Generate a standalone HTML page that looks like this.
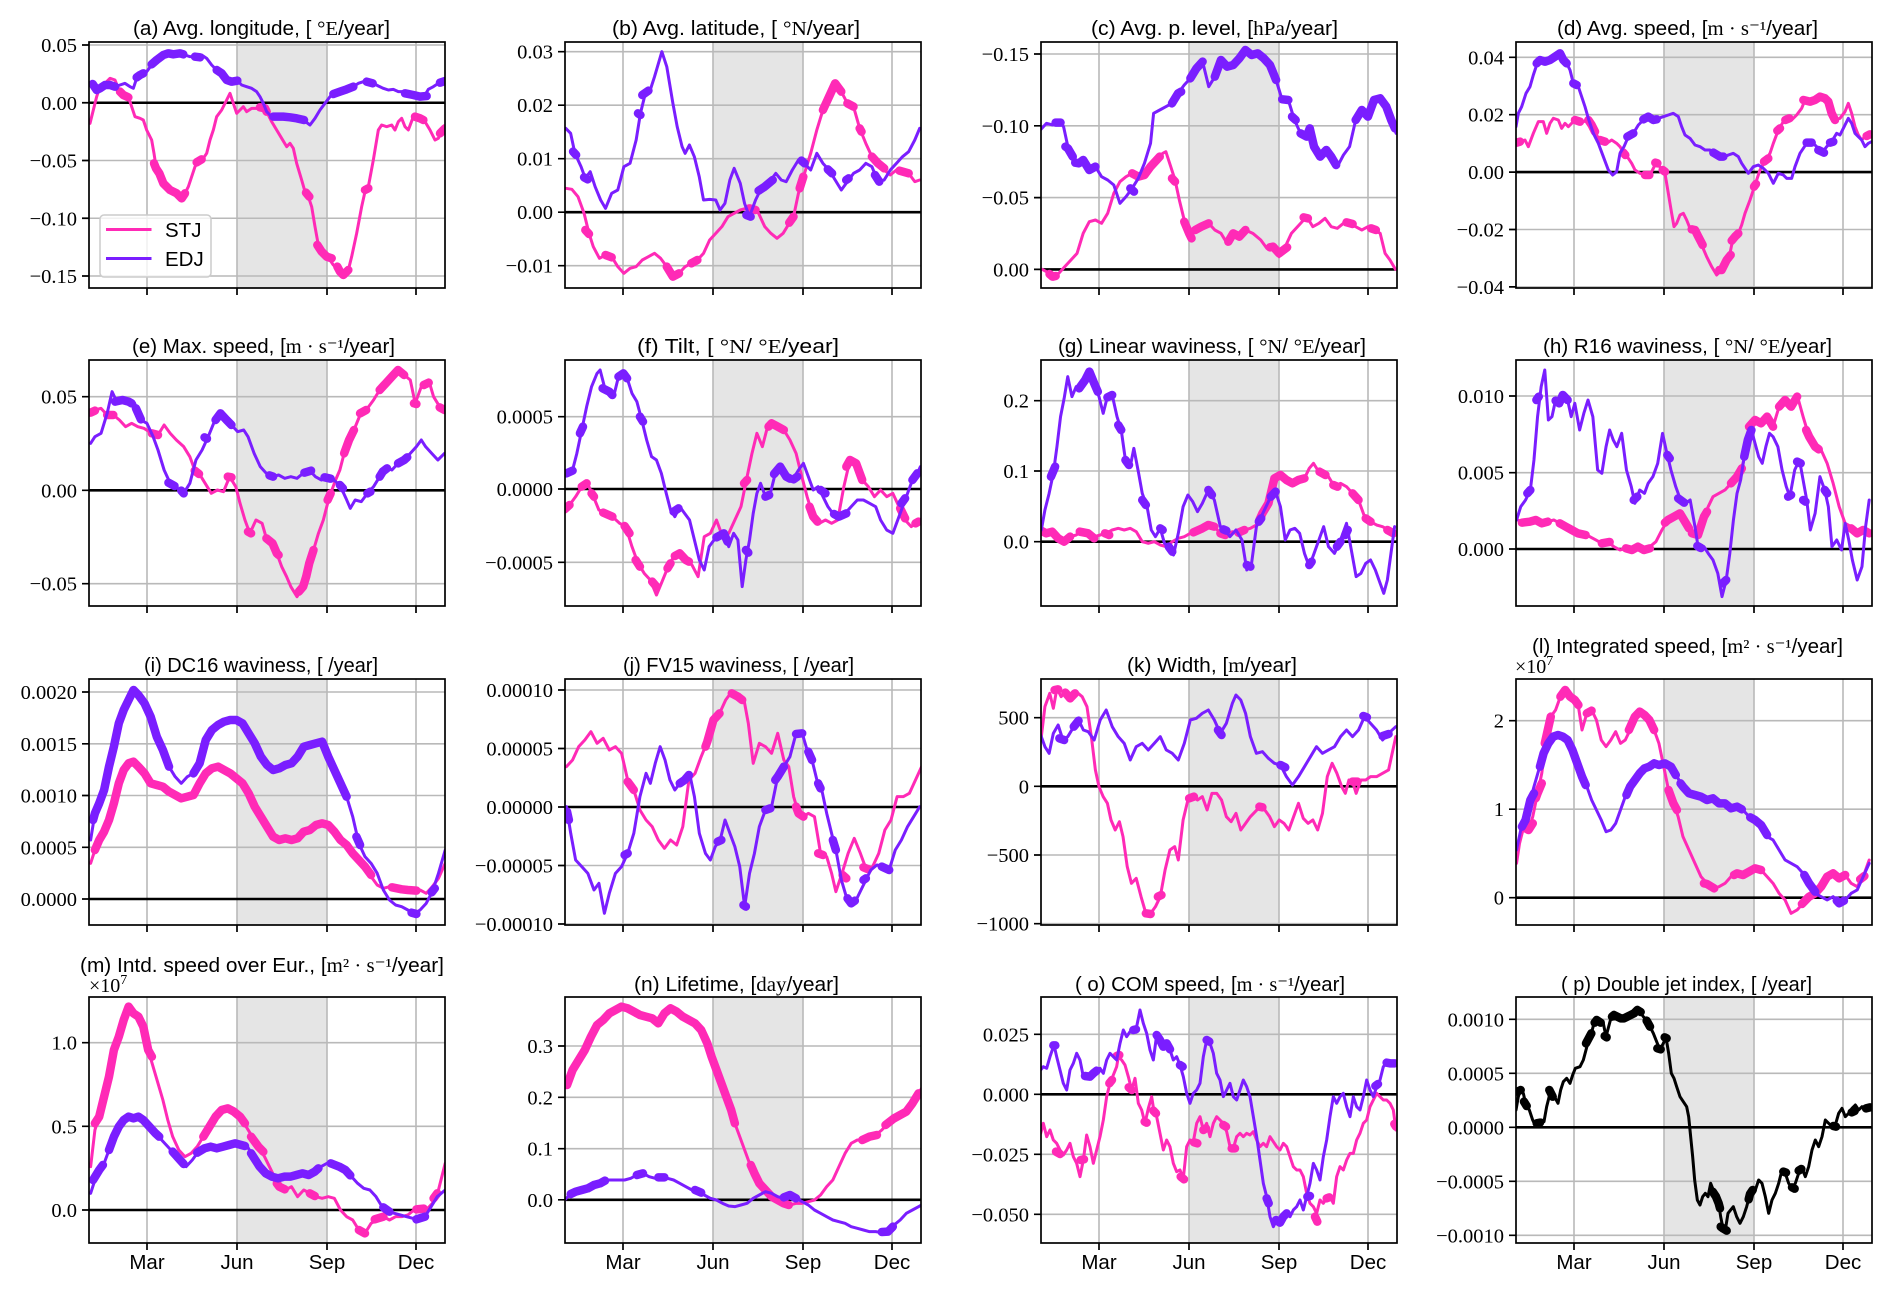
<!DOCTYPE html>
<html><head><meta charset="utf-8"><style>
html,body{margin:0;padding:0;background:#fff}
svg{display:block}
.p,.pk,.u,.uk,.b,.bk{fill:none;stroke-linejoin:round;stroke-linecap:round;vector-effect:non-scaling-stroke}
.p{stroke:#ff2ab6;stroke-width:3}
.pk{stroke:#ff2ab6;stroke-width:8.5}
.u{stroke:#7a1eff;stroke-width:3}
.uk{stroke:#7a1eff;stroke-width:8.5}
.b{stroke:#000;stroke-width:3}
.bk{stroke:#000;stroke-width:8.5}
.gr{stroke:#b9b9b9;stroke-width:1.6;fill:none}
.z{stroke:#000;stroke-width:2.6}
.fr{fill:none;stroke:#000;stroke-width:1.7}
.tk{stroke:#000;stroke-width:1.7;fill:none}
.yl{font-family:"Liberation Serif",serif;font-size:20.5px;text-anchor:end;fill:#000}
.ti{font-family:"Liberation Sans",sans-serif;font-size:20px;fill:#000}
.se{font-family:"Liberation Serif",serif}
.ml{font-family:"Liberation Sans",sans-serif;font-size:20.5px;text-anchor:middle;fill:#000}
.sh{fill:#e5e5e5}
</style></head><body>
<svg width="1892" height="1295" viewBox="0 0 1892 1295" xmlns="http://www.w3.org/2000/svg">
<defs>
<clipPath id="c1a"><rect x="89" y="42" width="356" height="246"/></clipPath>
<clipPath id="c1b"><rect x="565" y="42" width="356" height="246"/></clipPath>
<clipPath id="c1c"><rect x="1041" y="42" width="356" height="246"/></clipPath>
<clipPath id="c1d"><rect x="1516" y="42" width="356" height="246"/></clipPath>
<clipPath id="c2a"><rect x="89" y="360" width="356" height="246"/></clipPath>
<clipPath id="c2b"><rect x="565" y="360" width="356" height="246"/></clipPath>
<clipPath id="c2c"><rect x="1041" y="360" width="356" height="246"/></clipPath>
<clipPath id="c2d"><rect x="1516" y="360" width="356" height="246"/></clipPath>
<clipPath id="c3a"><rect x="89" y="679" width="356" height="246"/></clipPath>
<clipPath id="c3b"><rect x="565" y="679" width="356" height="246"/></clipPath>
<clipPath id="c3c"><rect x="1041" y="679" width="356" height="246"/></clipPath>
<clipPath id="c3d"><rect x="1516" y="679" width="356" height="246"/></clipPath>
<clipPath id="c4a"><rect x="89" y="997" width="356" height="246"/></clipPath>
<clipPath id="c4b"><rect x="565" y="997" width="356" height="246"/></clipPath>
<clipPath id="c4c"><rect x="1041" y="997" width="356" height="246"/></clipPath>
<clipPath id="c4d"><rect x="1516" y="997" width="356" height="246"/></clipPath>
</defs>

<!-- ===== backgrounds: shading + grid + zero lines ===== -->
<g transform="translate(89,42)"><rect class="sh" x="148" y="0" width="90" height="246"/><path class="gr" d="M58 0V246M148 0V246M238 0V246M327 0V246M0 3H356M0 118.5H356M0 176.25H356M0 234H356"/><path class="z" d="M0 60.75H356"/></g>
<g transform="translate(565,42)"><rect class="sh" x="148" y="0" width="90" height="246"/><path class="gr" d="M58 0V246M148 0V246M238 0V246M327 0V246M0 9.7H356M0 63.2H356M0 116.7H356M0 223.7H356"/><path class="z" d="M0 170.2H356"/></g>
<g transform="translate(1041,42)"><rect class="sh" x="148" y="0" width="90" height="246"/><path class="gr" d="M58 0V246M148 0V246M238 0V246M327 0V246M0 12H356M0 83.8H356M0 155.6H356"/><path class="z" d="M0 227.4H356"/></g>
<g transform="translate(1516,42)"><rect class="sh" x="148" y="0" width="90" height="246"/><path class="gr" d="M58 0V246M148 0V246M238 0V246M327 0V246M0 15.3H356M0 72.7H356M0 187.5H356M0 244.9H356"/><path class="z" d="M0 130.1H356"/></g>

<g transform="translate(89,360)"><rect class="sh" x="148" y="0" width="90" height="246"/><path class="gr" d="M58 0V246M148 0V246M238 0V246M327 0V246M0 36.7H356M0 223.7H356"/><path class="z" d="M0 130.3H356"/></g>
<g transform="translate(565,360)"><rect class="sh" x="148" y="0" width="90" height="246"/><path class="gr" d="M58 0V246M148 0V246M238 0V246M327 0V246M0 56.7H356M0 202.3H356"/><path class="z" d="M0 129H356"/></g>
<g transform="translate(1041,360)"><rect class="sh" x="148" y="0" width="90" height="246"/><path class="gr" d="M58 0V246M148 0V246M238 0V246M327 0V246M0 40.7H356M0 111H356"/><path class="z" d="M0 181.7H356"/></g>
<g transform="translate(1516,360)"><rect class="sh" x="148" y="0" width="90" height="246"/><path class="gr" d="M58 0V246M148 0V246M238 0V246M327 0V246M0 36H356M0 112.7H356"/><path class="z" d="M0 189H356"/></g>

<g transform="translate(89,679)"><rect class="sh" x="148" y="0" width="90" height="246"/><path class="gr" d="M58 0V246M148 0V246M238 0V246M327 0V246M0 13H356M0 64.8H356M0 116.5H356M0 168.3H356"/><path class="z" d="M0 220H356"/></g>
<g transform="translate(565,679)"><rect class="sh" x="148" y="0" width="90" height="246"/><path class="gr" d="M58 0V246M148 0V246M238 0V246M327 0V246M0 11H356M0 69.5H356M0 186.5H356M0 245H356"/><path class="z" d="M0 128H356"/></g>
<g transform="translate(1041,679)"><rect class="sh" x="148" y="0" width="90" height="246"/><path class="gr" d="M58 0V246M148 0V246M238 0V246M327 0V246M0 38.7H356M0 176H356M0 244.7H356"/><path class="z" d="M0 107.3H356"/></g>
<g transform="translate(1516,679)"><rect class="sh" x="148" y="0" width="90" height="246"/><path class="gr" d="M58 0V246M148 0V246M238 0V246M327 0V246M0 41.7H356M0 130.2H356"/><path class="z" d="M0 218.7H356"/></g>

<g transform="translate(89,997)"><rect class="sh" x="148" y="0" width="90" height="246"/><path class="gr" d="M58 0V246M148 0V246M238 0V246M327 0V246M0 45.7H356M0 129.3H356"/><path class="z" d="M0 213H356"/></g>
<g transform="translate(565,997)"><rect class="sh" x="148" y="0" width="90" height="246"/><path class="gr" d="M58 0V246M148 0V246M238 0V246M327 0V246M0 49H356M0 100.3H356M0 151.7H356"/><path class="z" d="M0 202.8H356"/></g>
<g transform="translate(1041,997)"><rect class="sh" x="148" y="0" width="90" height="246"/><path class="gr" d="M58 0V246M148 0V246M238 0V246M327 0V246M0 37.3H356M0 157.3H356M0 217.3H356"/><path class="z" d="M0 97.3H356"/></g>
<g transform="translate(1516,997)"><rect class="sh" x="148" y="0" width="90" height="246"/><path class="gr" d="M58 0V246M148 0V246M238 0V246M327 0V246M0 22.3H356M0 76.3H356M0 184.3H356M0 238.3H356"/><path class="z" d="M0 130.3H356"/></g>

<!-- ===== (a) ===== -->
<g clip-path="url(#c1a)"><g transform="scale(0.33333)">
<polyline class="p" points="270,370 280,330 290,290 300,260 315,250 330,235 345,240 355,265 370,285 385,290 395,320 405,350 420,355 430,360 440,390 455,420 462,460 468,500 478,520 490,550 510,570 530,580 545,595 555,580 565,560 575,530 585,500 595,485 610,475 620,460 630,420 640,390 650,350 665,330 680,300 690,280 700,310 710,340 720,330 730,320 740,335 755,325 770,325 785,320 795,325 805,345 815,365 830,390 845,415 860,440 870,430 880,445 890,490 905,540 915,575 925,590 935,620 945,680 955,735 965,755 980,770 990,780 1000,795 1010,805 1020,820 1030,830 1045,810 1055,770 1070,700 1085,620 1095,575 1105,560 1120,480 1135,390 1145,375 1160,380 1175,375 1185,390 1195,365 1205,355 1215,380 1225,390 1240,350 1260,355 1275,365 1290,390 1305,420 1315,415 1325,395 1335,380"/>
<polyline class="pk" points="360,275 370,285 385,292"/>
<polyline class="pk" points="462,490 468,505 478,520 490,550 510,570 530,580 545,595 555,580"/>
<polyline class="pk" points="590,487 605,478"/>
<polyline class="pk" points="780,322 795,325 800,335"/>
<polyline class="pk" points="918,578 928,590"/>
<polyline class="pk" points="952,735 965,755 980,770 995,775"/>
<polyline class="pk" points="1012,800 1020,815 1030,825 1045,810"/>
<polyline class="pk" points="1095,570 1105,565"/>
<polyline class="pk" points="1245,350 1260,355 1270,360"/>
<polyline class="pk" points="1320,400 1335,385"/>
<polyline class="u" points="270,255 280,250 290,270 300,265 315,255 330,255 345,260 360,255 375,250 390,260 400,265 410,235 420,225 440,215 455,195 470,180 490,165 505,160 520,163 540,160 555,165 570,170 590,170 605,165 620,175 635,195 650,210 665,220 680,240 695,245 710,240 725,255 740,260 755,265 770,275 780,290 790,310 800,335 815,350 830,350 850,350 870,352 890,355 910,360 930,375 945,355 960,330 975,310 990,290 1005,280 1020,275 1040,268 1060,260 1075,250 1090,245 1105,245 1120,250 1135,258 1150,265 1165,270 1180,268 1195,275 1210,275 1225,280 1240,285 1260,290 1275,285 1285,268 1300,260 1315,250 1330,245 1335,245"/>
<polyline class="uk" points="278,252 290,270 300,265 315,255 330,255 345,260"/>
<polyline class="uk" points="410,232 420,225 430,220"/>
<polyline class="uk" points="455,193 470,180 490,165 505,160 520,163 540,160 550,163"/>
<polyline class="uk" points="585,170 600,172"/>
<polyline class="uk" points="650,210 665,220 680,240 695,245 712,242"/>
<polyline class="uk" points="820,350 830,350 850,350 870,352 890,355 912,360"/>
<polyline class="uk" points="1000,282 1020,275 1040,268 1060,260"/>
<polyline class="uk" points="1100,245 1118,250"/>
<polyline class="uk" points="1215,280 1240,285 1260,290 1280,288"/>
<polyline class="uk" points="1320,248 1335,243"/>
</g></g>

<!-- ===== (b) ===== -->
<g clip-path="url(#c1b)"><g transform="translate(480,0) scale(0.61237,0.33333)">
<polyline class="p" points="140,565 150,568 160,590 170,640 178,700 185,740 195,775 205,765 215,770 225,800 235,820 245,805 255,800 265,780 275,770 285,760 295,775 305,800 315,830 325,820 335,800 345,790 355,780 365,760 375,720 385,700 395,680 405,650 415,640 425,630 435,625 445,625 455,640 465,680 475,700 485,715 495,700 505,670 512,650 520,580 530,520 540,460 550,390 560,330 570,290 580,250 590,275 600,310 610,320 620,385 630,430 640,470 650,490 660,510 670,525 680,510 690,515 700,520 710,545 718,540"/>
<polyline class="pk" points="172,690 178,702"/>
<polyline class="pk" points="205,765 215,772"/>
<polyline class="pk" points="305,800 315,830 325,820"/>
<polyline class="pk" points="345,790 355,780"/>
<polyline class="pk" points="440,625 450,630"/>
<polyline class="pk" points="505,668 512,650"/>
<polyline class="pk" points="522,565 528,530"/>
<polyline class="pk" points="560,330 570,290 580,250 590,275"/>
<polyline class="pk" points="600,310 610,320"/>
<polyline class="pk" points="620,385 623,395"/>
<polyline class="pk" points="640,470 650,490 660,505"/>
<polyline class="pk" points="685,512 700,520"/>
<polyline class="u" points="140,385 148,400 155,460 165,500 172,535 180,515 188,560 197,600 205,625 215,580 225,570 235,500 245,490 255,420 262,340 270,280 278,270 285,230 297,155 305,200 315,310 322,380 330,440 335,460 342,435 350,470 358,530 365,600 375,598 385,600 392,630 400,610 408,540 415,505 425,550 432,610 440,650 450,600 458,570 465,560 475,540 483,520 492,540 500,545 510,510 520,480 530,490 540,510 550,460 560,490 570,510 580,540 590,570 600,545 610,520 620,510 630,490 640,500 650,545 660,540 670,510 680,490 690,470 700,455 710,420 718,385"/>
<polyline class="uk" points="152,455 157,465"/>
<polyline class="uk" points="170,532 176,538"/>
<polyline class="uk" points="258,340 262,345"/>
<polyline class="uk" points="265,285 275,272"/>
<polyline class="uk" points="435,645 442,650"/>
<polyline class="uk" points="455,572 465,560 478,540"/>
<polyline class="uk" points="525,482 530,490"/>
<polyline class="uk" points="568,508 575,520"/>
<polyline class="uk" points="598,540 602,535"/>
<polyline class="uk" points="645,525 652,545"/>
</g></g>

<!-- ===== (c) ===== -->
<g clip-path="url(#c1c)"><g transform="translate(480,0) scale(0.61237,0.33333)">
<polyline class="p" points="918,808 925,815 935,830 945,820 955,800 965,780 975,760 985,700 995,665 1005,660 1015,670 1025,640 1035,580 1045,545 1055,530 1065,520 1075,530 1085,525 1095,500 1105,480 1115,460 1120,455 1128,500 1135,540 1142,600 1150,660 1158,700 1168,690 1178,680 1190,670 1200,690 1210,700 1220,730 1230,700 1240,710 1250,690 1262,700 1275,720 1285,745 1295,740 1305,770 1315,740 1325,700 1340,670 1350,650 1360,680 1370,670 1380,655 1390,680 1400,685 1410,670 1420,665 1430,680 1440,690 1450,680 1460,690 1470,700 1478,760 1486,780 1495,808"/>
<polyline class="pk" points="930,822 935,830 940,828"/>
<polyline class="pk" points="1065,520 1075,530 1085,525 1095,500 1105,480 1110,470"/>
<polyline class="pk" points="1130,535 1135,545"/>
<polyline class="pk" points="1150,665 1158,700 1162,715"/>
<polyline class="pk" points="1168,690 1178,680 1190,670"/>
<polyline class="pk" points="1222,725 1230,700 1240,710 1250,690"/>
<polyline class="pk" points="1290,742 1295,740 1305,760 1318,742"/>
<polyline class="pk" points="1345,652 1352,655"/>
<polyline class="pk" points="1415,667 1425,672"/>
<polyline class="pk" points="1455,685 1463,690"/>
<polyline class="u" points="915,390 925,370 935,375 945,365 953,380 960,440 968,470 978,490 985,480 995,510 1005,500 1015,530 1025,540 1035,555 1045,610 1055,590 1065,565 1075,535 1085,490 1095,430 1100,340 1110,330 1120,320 1130,310 1140,280 1150,255 1160,235 1170,205 1180,185 1190,260 1200,230 1210,180 1220,200 1230,195 1240,175 1250,150 1260,165 1270,160 1280,175 1290,195 1300,240 1310,300 1320,300 1330,360 1340,400 1350,410 1355,385 1362,440 1372,470 1382,450 1390,470 1400,500 1410,465 1420,440 1430,360 1440,330 1450,350 1460,300 1470,295 1480,320 1488,360 1496,400"/>
<polyline class="uk" points="940,368 948,368"/>
<polyline class="uk" points="956,440 960,445 968,470"/>
<polyline class="uk" points="972,488 978,490 985,480 995,510 1005,500"/>
<polyline class="uk" points="1062,565 1068,575"/>
<polyline class="uk" points="1130,310 1140,280 1145,275"/>
<polyline class="uk" points="1160,235 1170,205 1180,185"/>
<polyline class="uk" points="1200,230 1210,180 1220,200 1230,195 1240,175 1250,150 1260,165 1270,160 1280,175 1290,195 1300,240"/>
<polyline class="uk" points="1310,298 1320,300"/>
<polyline class="uk" points="1326,350 1332,360"/>
<polyline class="uk" points="1340,400 1350,410 1355,385 1362,440 1372,470 1382,450 1390,470 1398,495"/>
<polyline class="uk" points="1430,360 1440,330 1450,350 1460,300 1470,295 1480,320 1488,360 1494,385"/>
</g></g>

<!-- ===== (d) ===== -->
<g clip-path="url(#c1d)"><g transform="translate(1420,0) scale(0.33333)">
<polyline class="p" points="290,430 300,425 315,420 325,440 340,400 355,365 370,365 380,400 390,370 400,355 415,360 425,385 435,370 445,380 455,370 465,360 480,365 490,365 505,360 515,375 525,395 535,415 545,420 560,430 575,420 590,430 600,440 612,460 625,475 635,490 645,510 660,520 675,525 690,525 700,505 710,485 722,505 735,520 745,580 755,640 762,680 770,670 780,645 790,640 800,660 810,685 825,690 835,710 845,735 860,770 875,800 890,825 905,810 920,780 930,760 935,735 945,710 955,700 965,675 975,640 990,600 1005,555 1020,510 1035,485 1050,460 1060,430 1075,390 1090,365 1105,355 1115,360 1130,345 1145,325 1155,300 1170,305 1185,300 1200,290 1215,295 1225,305 1235,340 1245,360 1260,355 1275,335 1285,310 1295,340 1305,380 1315,405 1325,420 1335,410 1350,400"/>
<polyline class="pk" points="290,428 300,425"/>
<polyline class="pk" points="465,360 480,365"/>
<polyline class="pk" points="505,360 515,375 525,395"/>
<polyline class="pk" points="540,420 555,425"/>
<polyline class="pk" points="610,458 616,465"/>
<polyline class="pk" points="675,525 688,525"/>
<polyline class="pk" points="706,488 712,490"/>
<polyline class="pk" points="728,510 735,515"/>
<polyline class="pk" points="815,688 825,690 835,710 848,735"/>
<polyline class="pk" points="898,810 905,810 920,780 932,765"/>
<polyline class="pk" points="935,722 945,710 955,700"/>
<polyline class="pk" points="1002,560 1008,552"/>
<polyline class="pk" points="1032,485 1045,475"/>
<polyline class="pk" points="1072,392 1080,385"/>
<polyline class="pk" points="1096,360 1108,355"/>
<polyline class="pk" points="1150,300 1170,305 1185,300 1200,290 1215,295 1225,305 1235,340 1245,360"/>
<polyline class="pk" points="1340,408 1350,403"/>
<polyline class="u" points="288,380 295,340 305,320 318,280 330,260 340,225 350,195 360,180 375,185 390,180 405,170 420,160 430,180 440,190 450,210 460,250 475,260 485,290 495,320 505,355 520,400 535,430 550,470 565,510 578,525 590,515 600,460 612,440 625,410 640,400 655,375 670,360 685,350 700,360 715,355 730,350 745,345 760,340 775,350 785,380 795,405 810,415 825,435 840,440 855,450 870,450 885,460 900,470 915,470 925,465 940,460 955,470 965,490 975,505 985,520 1000,500 1015,495 1030,505 1045,520 1060,550 1075,520 1090,525 1100,535 1115,535 1125,500 1140,460 1160,430 1175,425 1190,440 1205,460 1220,440 1235,425 1250,400 1260,405 1275,375 1285,355 1295,370 1305,400 1315,410 1325,420 1335,440 1345,430 1355,425"/>
<polyline class="uk" points="350,190 360,180 375,185 390,180 405,170 420,160 430,180 440,190"/>
<polyline class="uk" points="460,250 470,255"/>
<polyline class="uk" points="622,410 640,400"/>
<polyline class="uk" points="670,358 685,350 700,360 710,358"/>
<polyline class="uk" points="880,458 900,470 910,470"/>
<polyline class="uk" points="1160,428 1175,428"/>
<polyline class="uk" points="1195,450 1212,458"/>
<polyline class="uk" points="1230,428 1240,425"/>
</g></g>

<!-- ===== (e) ===== -->
<g clip-path="url(#c2a)"><g transform="translate(0,320) scale(0.61237,0.33333)">
<polyline class="p" points="148,280 155,270 165,265 175,285 185,285 195,300 205,320 215,310 225,320 235,325 248,340 258,345 268,315 278,340 288,360 300,380 310,410 318,450 325,460 335,490 345,520 355,510 365,515 375,470 385,500 392,550 400,600 408,640 418,600 428,610 435,655 445,670 452,700 460,740 468,770 475,800 485,830 495,800 500,770 505,730 512,690 520,640 528,600 535,550 540,520 548,480 555,450 562,400 570,360 578,330 588,285 598,270 610,240 620,210 630,190 640,170 650,150 660,165 670,180 678,250 688,200 700,180 708,230 718,260 726,270"/>
<polyline class="pk" points="148,278 155,272"/>
<polyline class="pk" points="175,285 185,285"/>
<polyline class="pk" points="248,340 258,345"/>
<polyline class="pk" points="318,452 325,462"/>
<polyline class="pk" points="372,470 378,472"/>
<polyline class="pk" points="405,635 410,640"/>
<polyline class="pk" points="435,655 445,670 452,700 455,705"/>
<polyline class="pk" points="488,815 495,800 500,770 505,730 512,690"/>
<polyline class="pk" points="535,540 540,520"/>
<polyline class="pk" points="562,400 570,360 578,330"/>
<polyline class="pk" points="588,280 598,270"/>
<polyline class="pk" points="620,210 630,190 640,170 650,150 660,165"/>
<polyline class="pk" points="676,250 680,252"/>
<polyline class="pk" points="692,195 700,188"/>
<polyline class="pk" points="718,262 726,270"/>
<polyline class="u" points="148,370 155,350 165,340 175,280 183,215 192,250 200,240 210,245 220,250 230,300 240,310 250,350 258,390 268,450 278,490 290,505 300,520 310,490 320,420 330,390 340,350 350,305 360,280 370,300 378,315 388,335 398,330 405,350 415,400 425,440 435,460 445,470 455,465 465,475 475,470 485,475 495,460 505,450 515,470 525,480 535,470 545,480 555,495 565,535 572,565 580,540 590,545 600,520 610,500 620,470 630,440 640,450 650,430 660,420 670,400 680,380 688,360 695,380 705,400 715,420 726,400"/>
<polyline class="uk" points="188,245 200,240 210,245 215,250"/>
<polyline class="uk" points="222,265 230,298"/>
<polyline class="uk" points="275,488 285,498"/>
<polyline class="uk" points="296,512 300,520"/>
<polyline class="uk" points="334,352 338,356"/>
<polyline class="uk" points="352,300 360,280 370,300 378,315"/>
<polyline class="uk" points="440,466 446,470"/>
<polyline class="uk" points="497,458 508,452"/>
<polyline class="uk" points="530,472 540,476"/>
<polyline class="uk" points="555,495 560,505"/>
<polyline class="uk" points="600,520 605,515"/>
<polyline class="uk" points="620,470 625,455 632,445"/>
<polyline class="uk" points="650,430 660,420 665,412"/>
</g></g>

<!-- ===== (f) ===== -->
<g clip-path="url(#c2b)"><g transform="translate(0,320) scale(0.61237,0.33333)">
<polyline class="p" points="922,570 930,555 940,530 950,500 958,485 968,525 978,570 990,580 1000,590 1012,610 1022,620 1032,680 1042,730 1052,760 1062,780 1072,825 1080,790 1090,745 1100,710 1110,700 1120,720 1130,735 1140,770 1150,650 1160,640 1170,600 1180,650 1190,640 1200,600 1210,560 1220,470 1228,400 1236,340 1245,380 1252,330 1260,310 1270,320 1280,330 1290,360 1300,400 1308,460 1318,530 1328,590 1338,610 1348,600 1358,610 1368,600 1378,500 1388,420 1398,430 1408,480 1418,500 1428,530 1438,510 1448,530 1458,520 1468,560 1478,600 1488,620 1496,610 1503,600"/>
<polyline class="pk" points="922,568 930,555"/>
<polyline class="pk" points="950,500 958,490"/>
<polyline class="pk" points="966,520 970,530"/>
<polyline class="pk" points="985,578 1000,590"/>
<polyline class="pk" points="1020,618 1028,640"/>
<polyline class="pk" points="1038,720 1045,740"/>
<polyline class="pk" points="1065,785 1072,800"/>
<polyline class="pk" points="1090,745 1095,730"/>
<polyline class="pk" points="1102,708 1110,700 1120,720 1125,725"/>
<polyline class="pk" points="1215,490 1220,480"/>
<polyline class="pk" points="1255,320 1260,310 1270,320 1280,330"/>
<polyline class="pk" points="1322,560 1328,590 1335,605"/>
<polyline class="pk" points="1382,440 1388,420 1398,430 1408,480"/>
<polyline class="pk" points="1470,565 1478,595"/>
<polyline class="pk" points="1495,610 1500,605"/>
<polyline class="u" points="925,460 935,450 942,400 950,330 958,260 966,200 975,160 980,150 987,200 995,215 1002,230 1010,170 1018,160 1025,180 1032,220 1040,245 1048,300 1056,360 1064,410 1072,420 1080,460 1088,520 1095,570 1102,590 1110,560 1118,580 1126,600 1134,660 1142,720 1150,750 1158,680 1166,660 1174,650 1182,640 1190,680 1198,640 1205,660 1212,800 1218,720 1224,660 1230,580 1236,520 1242,490 1250,530 1258,520 1266,460 1274,440 1284,470 1294,480 1304,450 1312,430 1320,470 1328,510 1336,500 1344,530 1352,560 1360,580 1370,590 1380,580 1390,560 1400,540 1410,540 1420,550 1430,560 1438,600 1448,630 1458,640 1466,600 1474,560 1482,520 1490,480 1498,460 1503,440"/>
<polyline class="uk" points="925,460 935,452"/>
<polyline class="uk" points="947,340 952,320"/>
<polyline class="uk" points="984,205 995,215 1000,225"/>
<polyline class="uk" points="1010,170 1018,160 1024,175"/>
<polyline class="uk" points="1045,290 1050,305"/>
<polyline class="uk" points="1100,575 1108,565"/>
<polyline class="uk" points="1170,652 1182,640 1188,665"/>
<polyline class="uk" points="1218,690 1222,698"/>
<polyline class="uk" points="1250,530 1256,525"/>
<polyline class="uk" points="1264,462 1274,440 1284,470 1290,476"/>
<polyline class="uk" points="1296,478 1302,470"/>
<polyline class="uk" points="1340,510 1348,520"/>
<polyline class="uk" points="1362,582 1370,590 1382,580"/>
<polyline class="uk" points="1472,550 1478,535"/>
<polyline class="uk" points="1490,480 1498,460"/>
</g></g>

<!-- ===== (g) ===== -->
<g clip-path="url(#c2c)"><g transform="translate(950,320) scale(0.60078,0.33333)">
<polyline class="p" points="150,630 160,640 170,635 180,655 190,665 200,650 210,645 220,635 230,640 240,650 250,645 260,640 270,630 280,625 290,630 300,625 310,635 320,665 330,670 340,665 350,675 360,680 370,665 380,655 390,650 400,640 410,635 420,625 430,615 440,620 450,640 460,645 470,635 480,640 490,630 500,625 510,615 520,580 530,550 540,475 550,465 560,480 570,490 580,480 590,475 598,445 605,430 612,450 620,460 630,470 640,500 650,490 660,500 670,520 680,540 690,590 700,605 710,615 720,620 730,630 740,640"/>
<polyline class="pk" points="152,632 160,640 170,635 180,655 190,665 200,650"/>
<polyline class="pk" points="216,635 230,640 240,655"/>
<polyline class="pk" points="258,640 265,645"/>
<polyline class="pk" points="405,637 420,625 430,615 440,620"/>
<polyline class="pk" points="450,640 458,645"/>
<polyline class="pk" points="480,638 490,630"/>
<polyline class="pk" points="515,600 520,580 530,550 540,475 550,465 560,480 570,490 580,480 590,475"/>
<polyline class="pk" points="615,455 625,465"/>
<polyline class="pk" points="638,495 645,500"/>
<polyline class="pk" points="670,520 680,540"/>
<polyline class="pk" points="692,595 700,605"/>
<polyline class="pk" points="728,630 738,640"/>
<polyline class="u" points="152,630 158,570 165,520 172,460 178,380 184,290 190,235 196,170 203,230 210,200 218,210 225,180 232,155 240,190 248,230 255,280 262,230 270,225 278,290 285,330 292,420 300,440 306,385 314,460 320,520 328,560 335,630 342,650 350,625 357,670 364,680 372,705 380,640 388,560 396,525 404,545 412,575 420,550 430,510 440,540 450,620 458,630 466,650 476,630 486,660 494,750 502,730 510,620 518,590 526,560 534,530 542,515 550,560 558,660 566,630 574,625 582,640 590,700 598,740 606,700 614,660 622,620 630,680 640,700 650,660 660,610 668,690 676,770 684,760 692,730 700,720 708,750 716,790 722,820 728,780 734,700 740,620"/>
<polyline class="uk" points="168,470 175,440"/>
<polyline class="uk" points="215,205 225,180 232,155 240,190 246,215"/>
<polyline class="uk" points="262,232 270,225"/>
<polyline class="uk" points="280,315 285,330"/>
<polyline class="uk" points="292,420 298,435"/>
<polyline class="uk" points="320,540 326,555"/>
<polyline class="uk" points="350,625 354,630"/>
<polyline class="uk" points="364,680 370,695"/>
<polyline class="uk" points="430,510 436,525"/>
<polyline class="uk" points="455,628 460,632"/>
<polyline class="uk" points="494,735 500,740"/>
<polyline class="uk" points="514,605 518,595"/>
<polyline class="uk" points="534,530 542,515"/>
<polyline class="uk" points="598,735 602,725"/>
<polyline class="uk" points="644,680 650,665"/>
<polyline class="uk" points="658,645 662,630"/>
</g></g>

<!-- ===== (h) ===== -->
<g clip-path="url(#c2d)"><g transform="translate(950,320) scale(0.60078,0.33333)">
<polyline class="p" points="945,600 955,610 965,605 975,600 985,610 995,605 1005,600 1015,610 1025,620 1035,630 1045,640 1055,640 1065,650 1075,660 1085,670 1095,665 1105,680 1115,690 1125,685 1135,690 1145,680 1155,690 1165,680 1175,665 1185,630 1195,600 1205,590 1215,580 1225,610 1235,640 1245,645 1255,590 1262,560 1270,530 1280,520 1290,510 1300,490 1310,470 1320,430 1325,380 1330,320 1340,300 1350,310 1360,290 1370,320 1380,260 1390,240 1400,260 1410,225 1420,290 1430,350 1440,380 1450,390 1460,430 1470,490 1480,560 1490,610 1500,620 1510,640 1520,630 1530,640"/>
<polyline class="pk" points="952,608 965,605 975,600 985,610 995,605"/>
<polyline class="pk" points="1015,610 1025,620 1035,630 1045,640 1058,645"/>
<polyline class="pk" points="1085,670 1098,666"/>
<polyline class="pk" points="1125,685 1135,690 1145,680 1155,690 1165,685"/>
<polyline class="pk" points="1190,608 1195,600 1205,590 1215,580 1225,610 1230,625"/>
<polyline class="pk" points="1235,640 1245,645 1255,590 1260,575"/>
<polyline class="pk" points="1300,490 1310,470 1318,445"/>
<polyline class="pk" points="1330,320 1340,300 1350,310 1360,290 1370,320"/>
<polyline class="pk" points="1380,260 1390,240 1400,260 1410,230"/>
<polyline class="pk" points="1425,330 1430,350 1440,380 1446,388"/>
<polyline class="pk" points="1500,625 1510,640 1520,630 1530,640"/>
<polyline class="u" points="943,600 950,560 958,540 966,510 972,420 978,290 984,200 990,150 996,300 1002,290 1008,240 1014,250 1020,220 1028,240 1034,290 1040,250 1048,330 1055,280 1062,240 1070,290 1078,450 1085,460 1092,380 1098,330 1104,360 1110,380 1118,340 1126,450 1134,500 1140,550 1148,510 1156,520 1162,490 1170,470 1178,430 1186,340 1192,390 1200,450 1208,500 1216,540 1224,550 1232,540 1240,620 1246,690 1255,680 1262,700 1270,720 1278,760 1285,830 1292,780 1298,700 1304,600 1310,520 1316,480 1322,410 1328,360 1334,330 1340,370 1346,410 1352,430 1358,380 1364,340 1370,350 1378,380 1385,450 1392,500 1398,530 1406,450 1414,420 1420,480 1426,540 1432,630 1440,580 1448,470 1456,510 1462,560 1468,680 1476,660 1484,690 1490,610 1496,660 1502,720 1510,780 1518,740 1524,620 1530,540"/>
<polyline class="uk" points="961,520 966,510"/>
<polyline class="uk" points="976,240 980,230"/>
<polyline class="uk" points="1008,242 1014,250 1020,225 1028,240"/>
<polyline class="uk" points="1138,540 1144,530"/>
<polyline class="uk" points="1194,405 1198,415"/>
<polyline class="uk" points="1212,535 1222,548"/>
<polyline class="uk" points="1244,678 1250,684"/>
<polyline class="uk" points="1286,790 1292,780"/>
<polyline class="uk" points="1322,410 1328,360 1334,330"/>
<polyline class="uk" points="1395,530 1400,525"/>
<polyline class="uk" points="1410,425 1416,430"/>
<polyline class="uk" points="1420,540 1424,545"/>
<polyline class="uk" points="1456,510 1460,520"/>
</g></g>

<!-- ===== (i) ===== -->
<g clip-path="url(#c3a)"><g transform="translate(0,640) scale(0.61237,0.33333)">
<polyline class="p" points="148,670 155,630 162,600 170,575 178,540 186,490 194,430 202,390 210,370 218,365 226,380 236,400 246,430 256,435 266,440 276,455 286,465 296,475 306,470 316,465 326,430 336,400 346,385 356,380 366,390 376,400 386,415 396,430 406,460 416,500 426,530 436,560 446,590 456,600 466,595 476,600 486,595 496,575 506,570 516,555 526,550 536,555 546,575 556,600 566,615 576,640 586,660 596,680 606,710 616,735 626,745 636,740 646,745 656,748 666,750 676,755 686,750 696,760 706,740 716,715 727,670"/>
<polyline class="pk" points="155,630 162,600 170,575 178,540 186,490 194,430 202,390 210,370 218,365 226,380 236,400 246,430 256,435 266,440 276,455 286,465 296,475 306,470 316,465 326,430 336,400 346,385 356,380 366,390 376,400 386,415 396,430 406,460 416,500 426,530 436,560 446,590 456,600 466,595 476,600 486,595 496,575 506,570 516,555 526,550 536,555 546,575 556,600 566,615 576,640 586,660 596,680 606,705"/>
<polyline class="pk" points="640,742 656,748 666,750 680,752"/>
<polyline class="u" points="148,600 155,520 162,490 170,450 178,380 186,320 194,250 202,210 210,180 218,150 226,165 236,190 246,230 256,290 266,330 276,380 286,410 296,430 306,410 316,400 326,370 336,300 346,270 356,255 366,245 376,240 386,240 396,250 406,280 416,310 426,350 436,375 446,390 456,385 466,375 476,370 486,350 496,320 506,315 516,310 526,305 536,350 546,390 556,430 566,470 576,530 586,610 596,650 606,670 616,700 626,750 636,780 646,795 656,800 666,810 676,822 686,810 696,790 706,755 716,700 727,630"/>
<polyline class="uk" points="152,540 155,520 162,490 170,450 178,380 186,320 194,250 202,210 210,180 218,150 226,165 236,190 246,230 256,290 266,330 276,380"/>
<polyline class="uk" points="316,400 326,370 336,300 346,270 356,255 366,245 376,240 386,240 396,250 406,280 416,310 426,350 436,375 446,390 456,385 466,375 476,370 486,350 496,320 506,315 516,310 526,305 536,350 546,390 556,430 566,470"/>
<polyline class="uk" points="582,590 588,615"/>
<polyline class="uk" points="672,818 680,822"/>
<polyline class="uk" points="705,757 710,745"/>
</g></g>

<!-- ===== (j) ===== -->
<g clip-path="url(#c3b)"><g transform="translate(0,640) scale(0.61237,0.33333)">
<polyline class="p" points="925,380 935,360 945,320 955,300 965,275 975,310 985,295 995,330 1005,320 1015,340 1025,420 1035,450 1045,510 1055,540 1065,560 1075,600 1085,625 1095,600 1105,615 1115,560 1125,420 1135,400 1145,350 1155,305 1165,240 1175,220 1185,180 1195,155 1205,170 1215,180 1222,250 1230,370 1240,310 1250,320 1260,340 1270,280 1280,360 1288,380 1296,470 1304,520 1312,530 1320,520 1330,530 1340,640 1350,650 1358,700 1365,755 1375,700 1385,640 1395,595 1405,640 1415,690 1425,680 1435,640 1445,570 1455,540 1465,470 1475,470 1485,460 1495,420 1505,380"/>
<polyline class="pk" points="1025,425 1035,450"/>
<polyline class="pk" points="1152,320 1155,305 1165,240 1175,220"/>
<polyline class="pk" points="1195,160 1205,170 1212,180"/>
<polyline class="pk" points="1300,500 1304,520 1312,530"/>
<polyline class="pk" points="1336,640 1344,645"/>
<polyline class="pk" points="1376,705 1382,715"/>
<polyline class="pk" points="1410,682 1418,688"/>
<polyline class="u" points="925,500 932,580 940,660 950,680 960,700 970,750 978,730 987,820 995,760 1005,700 1015,680 1025,640 1035,580 1045,470 1055,400 1062,430 1070,370 1078,320 1086,360 1094,420 1102,450 1110,430 1118,420 1126,400 1134,470 1142,580 1152,640 1160,660 1168,620 1176,600 1184,540 1192,580 1200,620 1208,680 1216,800 1224,700 1232,640 1240,560 1250,510 1260,500 1270,410 1280,380 1290,350 1300,280 1310,280 1318,330 1326,360 1334,420 1342,450 1350,520 1358,580 1366,640 1374,720 1382,770 1390,790 1398,780 1406,750 1414,720 1422,690 1432,675 1442,680 1452,690 1462,630 1472,600 1482,560 1492,530 1502,500"/>
<polyline class="uk" points="926,515 929,540"/>
<polyline class="uk" points="1020,645 1025,640"/>
<polyline class="uk" points="1110,430 1118,420 1125,405"/>
<polyline class="uk" points="1172,605 1178,600"/>
<polyline class="uk" points="1214,795 1218,800"/>
<polyline class="uk" points="1250,510 1258,505"/>
<polyline class="uk" points="1266,420 1270,410 1280,380"/>
<polyline class="uk" points="1300,282 1310,280"/>
<polyline class="uk" points="1320,335 1326,360"/>
<polyline class="uk" points="1336,430 1340,445"/>
<polyline class="uk" points="1360,600 1365,630"/>
<polyline class="uk" points="1384,775 1390,790 1396,782"/>
<polyline class="uk" points="1410,720 1414,715"/>
<polyline class="uk" points="1440,680 1452,690"/>
</g></g>

<!-- ===== (k) ===== -->
<g clip-path="url(#c3c)"><g transform="translate(950,630) scale(0.60078,0.33333)">
<polyline class="p" points="152,320 158,230 166,190 172,235 178,175 185,200 192,185 200,205 210,185 220,200 228,230 236,330 242,420 248,470 255,500 262,520 268,570 275,600 282,575 288,620 295,710 302,760 310,745 318,800 326,850 334,850 342,830 350,800 358,720 366,660 374,650 380,690 388,570 396,510 404,500 412,510 420,500 428,540 436,490 444,490 452,510 460,560 468,575 476,550 484,600 492,580 500,560 508,545 516,530 524,540 532,560 540,590 548,570 556,580 564,600 572,560 580,520 588,565 596,580 604,570 612,600 620,550 628,440 636,400 644,430 652,470 658,490 664,450 670,455 676,490 684,450 692,450 700,440 710,440 720,430 730,420 742,320"/>
<polyline class="pk" points="174,180 180,178"/>
<polyline class="pk" points="192,188 200,205 208,190"/>
<polyline class="pk" points="326,850 334,852"/>
<polyline class="pk" points="346,800 352,795"/>
<polyline class="pk" points="398,505 406,500"/>
<polyline class="pk" points="515,530 520,532"/>
<polyline class="pk" points="670,455 678,455"/>
<polyline class="u" points="150,310 158,350 165,370 172,310 180,285 188,330 196,320 206,290 214,270 222,300 230,305 240,330 250,270 260,240 270,290 280,320 290,340 300,390 310,350 320,340 330,360 340,340 350,320 360,360 370,370 380,390 390,340 400,270 410,265 420,250 430,240 440,270 450,310 460,280 470,220 476,195 484,210 492,250 500,320 510,370 520,365 530,385 540,400 550,405 560,440 570,465 580,440 590,410 600,380 610,350 620,370 630,360 640,350 650,320 660,300 670,320 680,300 690,260 700,280 710,300 720,330 730,310 742,290"/>
<polyline class="uk" points="182,325 190,330"/>
<polyline class="uk" points="206,290 214,272"/>
<polyline class="uk" points="446,300 452,315"/>
<polyline class="uk" points="550,405 558,412"/>
<polyline class="uk" points="688,258 694,262"/>
<polyline class="uk" points="720,318 730,312"/>
</g></g>

<!-- ===== (l) ===== -->
<g clip-path="url(#c3d)"><g transform="translate(950,630) scale(0.60078,0.33333)">
<polyline class="p" points="943,700 948,640 955,590 963,600 970,560 978,490 985,430 992,330 1000,260 1008,240 1016,200 1024,180 1032,200 1040,210 1046,230 1052,300 1060,250 1068,240 1076,270 1084,330 1092,350 1100,330 1108,305 1116,340 1124,330 1132,300 1140,260 1148,245 1156,255 1164,270 1172,300 1180,340 1188,410 1196,480 1204,520 1212,560 1220,620 1230,660 1240,700 1250,740 1260,760 1270,775 1280,770 1290,760 1300,740 1310,730 1320,735 1330,725 1340,715 1350,720 1360,740 1370,760 1380,790 1390,810 1400,850 1410,840 1420,820 1430,800 1440,790 1450,770 1460,740 1470,730 1480,745 1490,735 1500,760 1510,770 1520,740 1530,690"/>
<polyline class="pk" points="958,595 963,600 970,580"/>
<polyline class="pk" points="975,505 978,490 985,460"/>
<polyline class="pk" points="990,340 1000,260"/>
<polyline class="pk" points="1016,200 1024,180 1032,200 1040,210 1046,225"/>
<polyline class="pk" points="1060,250 1068,242"/>
<polyline class="pk" points="1130,300 1140,260 1148,245 1156,255 1164,270 1172,300"/>
<polyline class="pk" points="1196,480 1204,520 1210,540"/>
<polyline class="pk" points="1255,760 1260,762 1272,775"/>
<polyline class="pk" points="1305,735 1310,730 1320,735 1330,725 1340,715 1350,720"/>
<polyline class="pk" points="1418,822 1430,800 1440,790 1450,770 1460,740 1470,730 1480,745 1490,735"/>
<polyline class="pk" points="1515,748 1522,738"/>
<polyline class="u" points="943,660 950,600 958,570 966,510 972,470 980,420 988,370 996,340 1004,320 1012,315 1020,320 1028,330 1036,360 1044,400 1052,440 1060,470 1068,510 1076,540 1084,570 1092,605 1100,600 1108,580 1116,540 1124,500 1132,470 1140,450 1148,430 1156,415 1164,410 1172,400 1180,405 1190,400 1200,410 1210,440 1220,470 1230,490 1240,495 1250,500 1260,510 1270,505 1280,520 1290,520 1300,535 1310,530 1320,540 1330,560 1340,570 1350,585 1360,620 1370,630 1380,660 1390,690 1400,700 1410,710 1420,730 1430,760 1440,790 1450,800 1460,810 1470,800 1480,820 1490,810 1500,790 1510,780 1520,740 1530,700"/>
<polyline class="uk" points="952,590 958,570 966,510 972,490"/>
<polyline class="uk" points="982,410 988,370 996,340 1004,320 1012,315 1020,320 1028,330 1036,360 1044,400 1052,440 1058,465"/>
<polyline class="uk" points="1126,495 1132,470 1140,450 1148,430 1156,415 1164,410 1172,400 1180,405 1190,400 1200,410 1208,435"/>
<polyline class="uk" points="1216,460 1220,470 1230,490 1240,495 1250,500 1260,510 1270,505 1280,520 1290,520 1300,535 1310,530 1318,538"/>
<polyline class="uk" points="1332,562 1340,570 1350,585 1360,615"/>
<polyline class="uk" points="1422,735 1430,760 1440,785"/>
<polyline class="uk" points="1476,812 1480,820 1488,812"/>
</g></g>

<!-- ===== (m) ===== -->
<g clip-path="url(#c4a)"><g transform="translate(0,950) scale(0.61237,0.33333)">
<polyline class="p" points="148,650 155,540 162,500 170,440 178,380 186,300 194,260 202,210 210,170 218,190 226,200 234,230 242,300 250,350 258,400 266,450 274,510 282,560 292,600 302,620 312,610 322,590 332,560 342,530 352,500 362,480 372,475 382,485 392,500 402,530 412,560 422,590 432,620 440,650 448,680 456,710 466,720 476,710 486,740 496,720 506,730 516,740 526,745 536,740 546,745 556,780 566,800 576,810 586,840 596,850 606,820 616,810 626,800 636,810 646,800 656,800 666,795 676,780 686,775 696,780 706,760 716,720 727,640"/>
<polyline class="pk" points="155,520 162,500 170,440 178,380 186,300 194,260 202,210 210,170 218,190 226,200 234,230 242,300 248,320"/>
<polyline class="pk" points="332,560 342,530 352,500 362,480 372,475 382,485 392,500 400,520"/>
<polyline class="pk" points="410,560 422,590 430,605"/>
<polyline class="pk" points="452,700 456,710 465,718"/>
<polyline class="pk" points="506,730 514,738"/>
<polyline class="pk" points="586,840 596,850"/>
<polyline class="pk" points="612,808 626,800"/>
<polyline class="pk" points="680,778 692,776"/>
<polyline class="pk" points="708,745 714,730"/>
<polyline class="u" points="148,730 155,690 162,660 170,640 178,600 186,560 194,530 202,510 210,500 218,505 226,500 234,510 244,530 254,550 264,570 274,590 284,610 294,630 304,650 314,630 324,605 334,595 344,590 354,595 364,590 374,585 384,580 394,585 404,590 414,620 424,650 434,670 444,680 454,685 464,680 474,680 484,675 494,670 504,675 514,665 524,650 534,640 544,640 554,650 564,660 574,680 584,700 594,715 604,720 614,740 624,770 634,785 644,790 654,795 664,800 674,805 684,810 694,800 704,770 714,740 727,720"/>
<polyline class="uk" points="152,690 162,660 168,645"/>
<polyline class="uk" points="178,600 186,560 194,530 202,510 210,500 218,505 226,500 234,510 244,530 254,550 260,560"/>
<polyline class="uk" points="282,605 294,630 300,642"/>
<polyline class="uk" points="322,608 334,595 344,590 354,595 364,590 374,585 384,580 394,585 400,588"/>
<polyline class="uk" points="410,610 424,650 434,670 444,680 454,685 464,680 474,680 484,675 494,670 504,675 514,665 520,655"/>
<polyline class="uk" points="540,640 554,650 564,660 572,676"/>
<polyline class="uk" points="626,772 636,785"/>
<polyline class="uk" points="680,808 694,800"/>
</g></g>

<!-- ===== (n) ===== -->
<g clip-path="url(#c4b)"><g transform="translate(0,950) scale(0.61237,0.33333)">
<polyline class="p" points="925,410 935,360 945,330 955,300 965,260 975,225 985,210 995,190 1005,180 1015,170 1025,175 1035,185 1045,195 1055,200 1065,205 1075,220 1085,190 1095,175 1105,185 1115,200 1125,210 1135,220 1145,240 1155,280 1162,320 1170,360 1178,400 1186,440 1194,480 1200,520 1208,560 1216,600 1224,640 1232,670 1240,700 1250,720 1260,740 1270,750 1280,760 1290,765 1300,760 1310,760 1320,755 1330,750 1340,735 1350,710 1360,690 1370,650 1380,610 1390,580 1400,570 1410,570 1420,560 1430,555 1440,540 1450,520 1460,505 1470,495 1480,485 1490,460 1500,430 1505,415"/>
<polyline class="pk" points="926,405 935,360 945,330 955,300 965,260 975,225 985,210 995,190 1005,180 1015,170 1025,175 1035,185 1045,195 1055,200 1065,205 1075,220 1085,190 1095,175 1105,185 1115,200 1125,210 1135,220 1145,240 1155,280 1162,320 1170,360 1178,400 1186,440 1194,480 1200,520"/>
<polyline class="pk" points="1226,645 1232,670 1240,700 1250,720 1260,740 1270,750 1280,760 1288,765"/>
<polyline class="pk" points="1408,570 1420,560 1432,555"/>
<polyline class="pk" points="1446,525 1460,505 1470,495 1480,485 1490,460 1500,430"/>
<polyline class="u" points="922,750 930,735 940,725 950,720 960,715 970,705 980,700 990,690 1000,690 1010,690 1020,690 1030,685 1040,675 1050,670 1060,680 1070,685 1080,680 1090,685 1100,690 1110,700 1120,710 1130,720 1140,725 1150,735 1160,745 1170,750 1180,760 1190,768 1200,770 1210,765 1220,760 1230,745 1240,735 1250,725 1260,730 1270,740 1280,745 1290,735 1300,745 1310,755 1320,765 1330,780 1340,790 1350,800 1360,810 1370,815 1380,820 1390,830 1400,835 1410,840 1420,845 1430,845 1440,848 1450,845 1460,825 1470,810 1480,790 1490,780 1500,770 1505,765"/>
<polyline class="uk" points="932,732 940,725 950,720 960,715 970,705 980,700 988,692"/>
<polyline class="uk" points="1040,675 1050,670"/>
<polyline class="uk" points="1075,682 1085,682"/>
<polyline class="uk" points="1135,720 1145,728"/>
<polyline class="uk" points="1280,742 1290,735 1300,745"/>
<polyline class="uk" points="1440,846 1450,845 1458,830"/>
</g></g>

<!-- ===== (o) ===== -->
<g clip-path="url(#c4c)"><g transform="translate(950,950) scale(0.33333)">
<polyline class="p" points="272,550 280,520 290,560 300,540 310,570 320,580 330,600 340,615 350,600 360,580 370,620 380,640 390,680 400,630 410,555 420,590 430,640 440,600 450,560 460,510 470,440 480,400 490,375 500,350 505,320 515,330 525,345 535,380 545,420 555,385 565,460 575,480 585,520 595,475 605,440 612,485 620,500 630,550 640,600 650,570 660,590 670,640 680,665 690,660 700,685 710,590 720,570 730,575 740,520 750,500 760,540 770,520 780,560 790,520 800,500 810,510 820,520 830,545 840,590 850,595 860,560 870,550 880,560 890,550 900,555 910,545 920,570 930,590 940,580 950,590 960,560 970,575 980,590 990,600 1000,580 1010,590 1020,620 1030,650 1040,660 1050,660 1060,680 1070,730 1080,760 1090,770 1100,790 1110,750 1120,760 1130,745 1140,740 1150,760 1160,680 1170,650 1180,660 1190,630 1200,610 1210,610 1220,570 1230,550 1240,520 1250,510 1260,470 1270,450 1280,430 1290,440 1300,450 1310,450 1320,460 1330,480 1338,540"/>
<polyline class="pk" points="318,605 330,612"/>
<polyline class="pk" points="392,630 402,628"/>
<polyline class="pk" points="478,400 486,390"/>
<polyline class="pk" points="500,318 508,315"/>
<polyline class="pk" points="536,412 545,420"/>
<polyline class="pk" points="584,515 590,518"/>
<polyline class="pk" points="610,482 618,490"/>
<polyline class="pk" points="692,680 702,688"/>
<polyline class="pk" points="732,577 742,580"/>
<polyline class="pk" points="760,540 768,535"/>
<polyline class="pk" points="820,525 828,530"/>
<polyline class="pk" points="845,595 855,595"/>
<polyline class="pk" points="1095,800 1102,815"/>
<polyline class="pk" points="1130,745 1138,742"/>
<polyline class="pk" points="1333,522 1338,530"/>
<polyline class="u" points="272,360 280,350 290,355 300,320 312,285 320,320 330,360 340,400 350,420 360,360 370,340 380,310 390,330 400,380 410,385 420,380 430,370 440,360 450,355 460,370 470,330 480,310 490,320 500,330 510,280 520,240 530,260 540,245 550,240 560,230 570,180 580,220 590,250 600,300 610,330 620,255 630,270 640,290 650,280 660,300 670,330 680,320 690,345 700,380 710,430 720,460 730,430 740,420 750,400 760,320 770,270 780,280 790,310 800,370 810,390 820,440 830,420 840,400 850,440 860,450 870,420 880,390 890,410 900,440 910,500 920,560 930,630 940,700 950,740 960,800 970,830 980,810 990,820 1000,800 1010,790 1020,800 1030,780 1040,770 1050,750 1060,780 1070,740 1080,700 1090,640 1100,660 1110,690 1120,620 1130,570 1140,500 1150,440 1160,460 1170,440 1180,430 1190,470 1200,500 1210,440 1220,470 1230,480 1240,440 1250,390 1260,420 1270,440 1280,410 1290,390 1300,350 1310,340 1320,340 1335,340"/>
<polyline class="uk" points="310,286 316,286"/>
<polyline class="uk" points="405,378 420,380 430,370 440,362"/>
<polyline class="uk" points="550,240 558,238"/>
<polyline class="uk" points="620,255 630,270 640,290 650,280 660,298"/>
<polyline class="uk" points="690,345 698,350"/>
<polyline class="uk" points="770,270 778,275"/>
<polyline class="uk" points="950,745 956,760"/>
<polyline class="uk" points="978,810 990,818 1000,800 1010,790"/>
<polyline class="uk" points="1072,740 1080,738"/>
<polyline class="uk" points="1276,408 1284,402"/>
<polyline class="uk" points="1310,338 1320,340 1334,340"/>
</g></g>

<!-- ===== (p) ===== -->
<g clip-path="url(#c4d)"><g transform="translate(1400,950) scale(0.33333)">
<polyline class="b" points="348,480 355,440 362,420 370,430 378,465 388,480 398,510 405,525 415,520 425,510 432,515 440,470 450,430 458,440 466,445 474,460 482,420 490,395 500,385 510,400 518,375 526,355 540,350 550,330 558,300 566,270 574,250 582,220 590,210 600,218 610,220 618,260 626,230 634,200 642,195 652,200 662,205 672,205 682,200 692,195 702,190 712,180 720,185 730,200 740,210 750,230 760,250 770,275 780,300 790,280 798,262 806,310 814,370 822,385 830,410 840,440 850,455 860,470 866,500 872,560 878,620 884,690 892,750 900,765 908,740 916,730 924,740 932,700 940,720 948,740 956,760 962,800 968,830 976,840 984,790 992,780 1000,770 1010,800 1020,820 1030,800 1040,770 1048,740 1056,730 1066,720 1076,690 1086,700 1096,740 1106,790 1116,750 1126,730 1136,700 1146,660 1156,670 1166,700 1176,715 1186,700 1196,670 1206,655 1216,680 1226,650 1236,600 1246,570 1256,590 1266,560 1276,510 1286,520 1296,530 1306,525 1316,490 1326,475 1336,500 1346,490 1356,475 1366,465 1376,480 1386,470 1396,480 1410,470"/>
<polyline class="bk" points="352,425 362,420"/>
<polyline class="bk" points="372,455 380,468"/>
<polyline class="bk" points="410,520 420,518"/>
<polyline class="bk" points="448,420 458,440"/>
<polyline class="bk" points="558,280 566,265 574,250"/>
<polyline class="bk" points="584,218 590,210 602,218"/>
<polyline class="bk" points="614,258 620,262"/>
<polyline class="bk" points="636,200 642,195 652,200 662,205 672,205 682,200 692,195 702,190 712,180 722,186"/>
<polyline class="bk" points="740,212 750,230"/>
<polyline class="bk" points="772,295 782,298"/>
<polyline class="bk" points="794,262 800,265"/>
<polyline class="bk" points="938,725 948,740 956,760 960,775"/>
<polyline class="bk" points="962,830 970,836 980,842"/>
<polyline class="bk" points="1046,748 1050,732 1058,720"/>
<polyline class="bk" points="1150,665 1158,668"/>
<polyline class="bk" points="1176,712 1184,716"/>
<polyline class="bk" points="1196,662 1204,657"/>
<polyline class="bk" points="1300,528 1308,530"/>
<polyline class="bk" points="1355,487 1364,483"/>
<polyline class="bk" points="1398,475 1410,472"/>
</g></g>

<!-- ===== frames, ticks, labels ===== -->
<g transform="translate(89,42)"><rect class="fr" x="0" y="0" width="356" height="246"/><path class="tk" d="M58 246v7M148 246v7M238 246v7M327 246v7M0 3h-7M0 60.75h-7M0 118.5h-7M0 176.25h-7M0 234h-7"/>
<text class="yl" x="-12" y="10">0.05</text><text class="yl" x="-12" y="67.75">0.00</text><text class="yl" x="-12" y="125.5">−0.05</text><text class="yl" x="-12" y="183.25">−0.10</text><text class="yl" x="-12" y="241">−0.15</text></g>
<g transform="translate(565,42)"><rect class="fr" x="0" y="0" width="356" height="246"/><path class="tk" d="M58 246v7M148 246v7M238 246v7M327 246v7M0 9.7h-7M0 63.2h-7M0 116.7h-7M0 170.2h-7M0 223.7h-7"/>
<text class="yl" x="-12" y="16.7">0.03</text><text class="yl" x="-12" y="70.2">0.02</text><text class="yl" x="-12" y="123.7">0.01</text><text class="yl" x="-12" y="177.2">0.00</text><text class="yl" x="-12" y="230.7">−0.01</text></g>
<g transform="translate(1041,42)"><rect class="fr" x="0" y="0" width="356" height="246"/><path class="tk" d="M58 246v7M148 246v7M238 246v7M327 246v7M0 12h-7M0 83.8h-7M0 155.6h-7M0 227.4h-7"/>
<text class="yl" x="-12" y="19">−0.15</text><text class="yl" x="-12" y="90.8">−0.10</text><text class="yl" x="-12" y="162.6">−0.05</text><text class="yl" x="-12" y="234.4">0.00</text></g>
<g transform="translate(1516,42)"><rect class="fr" x="0" y="0" width="356" height="246"/><path class="tk" d="M58 246v7M148 246v7M238 246v7M327 246v7M0 15.3h-7M0 72.7h-7M0 130.1h-7M0 187.5h-7M0 244.9h-7"/>
<text class="yl" x="-12" y="22.3">0.04</text><text class="yl" x="-12" y="79.7">0.02</text><text class="yl" x="-12" y="137.1">0.00</text><text class="yl" x="-12" y="194.5">−0.02</text><text class="yl" x="-12" y="251.9">−0.04</text></g>

<g transform="translate(89,360)"><rect class="fr" x="0" y="0" width="356" height="246"/><path class="tk" d="M58 246v7M148 246v7M238 246v7M327 246v7M0 36.7h-7M0 130.3h-7M0 223.7h-7"/>
<text class="yl" x="-12" y="43.7">0.05</text><text class="yl" x="-12" y="137.3">0.00</text><text class="yl" x="-12" y="230.7">−0.05</text></g>
<g transform="translate(565,360)"><rect class="fr" x="0" y="0" width="356" height="246"/><path class="tk" d="M58 246v7M148 246v7M238 246v7M327 246v7M0 56.7h-7M0 129h-7M0 202.3h-7"/>
<text class="yl" x="-12" y="63.7">0.0005</text><text class="yl" x="-12" y="136">0.0000</text><text class="yl" x="-12" y="209.3">−0.0005</text></g>
<g transform="translate(1041,360)"><rect class="fr" x="0" y="0" width="356" height="246"/><path class="tk" d="M58 246v7M148 246v7M238 246v7M327 246v7M0 40.7h-7M0 111h-7M0 181.7h-7"/>
<text class="yl" x="-12" y="47.7">0.2</text><text class="yl" x="-12" y="118">0.1</text><text class="yl" x="-12" y="188.7">0.0</text></g>
<g transform="translate(1516,360)"><rect class="fr" x="0" y="0" width="356" height="246"/><path class="tk" d="M58 246v7M148 246v7M238 246v7M327 246v7M0 36h-7M0 112.7h-7M0 189h-7"/>
<text class="yl" x="-12" y="43">0.010</text><text class="yl" x="-12" y="119.7">0.005</text><text class="yl" x="-12" y="196">0.000</text></g>

<g transform="translate(89,679)"><rect class="fr" x="0" y="0" width="356" height="246"/><path class="tk" d="M58 246v7M148 246v7M238 246v7M327 246v7M0 13h-7M0 64.8h-7M0 116.5h-7M0 168.3h-7M0 220h-7"/>
<text class="yl" x="-12" y="20">0.0020</text><text class="yl" x="-12" y="71.8">0.0015</text><text class="yl" x="-12" y="123.5">0.0010</text><text class="yl" x="-12" y="175.3">0.0005</text><text class="yl" x="-12" y="227">0.0000</text></g>
<g transform="translate(565,679)"><rect class="fr" x="0" y="0" width="356" height="246"/><path class="tk" d="M58 246v7M148 246v7M238 246v7M327 246v7M0 11h-7M0 69.5h-7M0 128h-7M0 186.5h-7M0 245h-7"/>
<text class="yl" x="-12" y="18">0.00010</text><text class="yl" x="-12" y="76.5">0.00005</text><text class="yl" x="-12" y="135">0.00000</text><text class="yl" x="-12" y="193.5">−0.00005</text><text class="yl" x="-12" y="252">−0.00010</text></g>
<g transform="translate(1041,679)"><rect class="fr" x="0" y="0" width="356" height="246"/><path class="tk" d="M58 246v7M148 246v7M238 246v7M327 246v7M0 38.7h-7M0 107.3h-7M0 176h-7M0 244.7h-7"/>
<text class="yl" x="-12" y="45.7">500</text><text class="yl" x="-12" y="114.3">0</text><text class="yl" x="-12" y="183">−500</text><text class="yl" x="-12" y="251.7">−1000</text></g>
<g transform="translate(1516,679)"><rect class="fr" x="0" y="0" width="356" height="246"/><path class="tk" d="M58 246v7M148 246v7M238 246v7M327 246v7M0 41.7h-7M0 130.2h-7M0 218.7h-7"/>
<text class="yl" x="-12" y="48.7">2</text><text class="yl" x="-12" y="137.2">1</text><text class="yl" x="-12" y="225.7">0</text></g>

<g transform="translate(89,997)"><rect class="fr" x="0" y="0" width="356" height="246"/><path class="tk" d="M58 246v7M148 246v7M238 246v7M327 246v7M0 45.7h-7M0 129.3h-7M0 213h-7"/>
<text class="yl" x="-12" y="52.7">1.0</text><text class="yl" x="-12" y="136.3">0.5</text><text class="yl" x="-12" y="220">0.0</text>
<text class="ml" x="58" y="272">Mar</text><text class="ml" x="148" y="272">Jun</text><text class="ml" x="238" y="272">Sep</text><text class="ml" x="327" y="272">Dec</text></g>
<g transform="translate(565,997)"><rect class="fr" x="0" y="0" width="356" height="246"/><path class="tk" d="M58 246v7M148 246v7M238 246v7M327 246v7M0 49h-7M0 100.3h-7M0 151.7h-7M0 202.8h-7"/>
<text class="yl" x="-12" y="56">0.3</text><text class="yl" x="-12" y="107.3">0.2</text><text class="yl" x="-12" y="158.7">0.1</text><text class="yl" x="-12" y="209.8">0.0</text>
<text class="ml" x="58" y="272">Mar</text><text class="ml" x="148" y="272">Jun</text><text class="ml" x="238" y="272">Sep</text><text class="ml" x="327" y="272">Dec</text></g>
<g transform="translate(1041,997)"><rect class="fr" x="0" y="0" width="356" height="246"/><path class="tk" d="M58 246v7M148 246v7M238 246v7M327 246v7M0 37.3h-7M0 97.3h-7M0 157.3h-7M0 217.3h-7"/>
<text class="yl" x="-12" y="44.3">0.025</text><text class="yl" x="-12" y="104.3">0.000</text><text class="yl" x="-12" y="164.3">−0.025</text><text class="yl" x="-12" y="224.3">−0.050</text>
<text class="ml" x="58" y="272">Mar</text><text class="ml" x="148" y="272">Jun</text><text class="ml" x="238" y="272">Sep</text><text class="ml" x="327" y="272">Dec</text></g>
<g transform="translate(1516,997)"><rect class="fr" x="0" y="0" width="356" height="246"/><path class="tk" d="M58 246v7M148 246v7M238 246v7M327 246v7M0 22.3h-7M0 76.3h-7M0 130.3h-7M0 184.3h-7M0 238.3h-7"/>
<text class="yl" x="-12" y="29.3">0.0010</text><text class="yl" x="-12" y="83.3">0.0005</text><text class="yl" x="-12" y="137.3">0.0000</text><text class="yl" x="-12" y="191.3">−0.0005</text><text class="yl" x="-12" y="245.3">−0.0010</text>
<text class="ml" x="58" y="272">Mar</text><text class="ml" x="148" y="272">Jun</text><text class="ml" x="238" y="272">Sep</text><text class="ml" x="327" y="272">Dec</text></g>

<!-- legend -->
<rect x="100" y="215" width="111" height="62" rx="4" ry="4" fill="#fff" fill-opacity="0.8" stroke="#cccccc" stroke-width="1.5"/>
<line x1="106" y1="229.5" x2="151.5" y2="229.5" stroke="#ff2ab6" stroke-width="3"/>
<line x1="106" y1="258.5" x2="151.5" y2="258.5" stroke="#7a1eff" stroke-width="3"/>
<text class="ti" x="165" y="237" style="font-size:20.5px">STJ</text>
<text class="ti" x="165" y="266" style="font-size:20.5px">EDJ</text>

<!-- titles -->
<text class="ti" x="133" y="35" textLength="257" lengthAdjust="spacingAndGlyphs">(a) Avg. longitude, [ <tspan class="se">°E</tspan>/year]</text>
<text class="ti" x="612" y="35" textLength="248" lengthAdjust="spacingAndGlyphs">(b) Avg. latitude, [ <tspan class="se">°N</tspan>/year]</text>
<text class="ti" x="1091" y="35" textLength="247" lengthAdjust="spacingAndGlyphs">(c) Avg. p. level, [<tspan class="se">hPa</tspan>/year]</text>
<text class="ti" x="1557" y="35" textLength="261" lengthAdjust="spacingAndGlyphs">(d) Avg. speed, [<tspan class="se">m · s⁻¹</tspan>/year]</text>
<text class="ti" x="132" y="353" textLength="263" lengthAdjust="spacingAndGlyphs">(e) Max. speed, [<tspan class="se">m · s⁻¹</tspan>/year]</text>
<text class="ti" x="637" y="353" textLength="202" lengthAdjust="spacingAndGlyphs">(f) Tilt, [ <tspan class="se">°N</tspan>/ <tspan class="se">°E</tspan>/year]</text>
<text class="ti" x="1058" y="353" textLength="308" lengthAdjust="spacingAndGlyphs">(g) Linear waviness, [ <tspan class="se">°N</tspan>/ <tspan class="se">°E</tspan>/year]</text>
<text class="ti" x="1543" y="353" textLength="289" lengthAdjust="spacingAndGlyphs">(h) R16 waviness, [ <tspan class="se">°N</tspan>/ <tspan class="se">°E</tspan>/year]</text>
<text class="ti" x="144" y="672" textLength="234" lengthAdjust="spacingAndGlyphs">(i) DC16 waviness, [ /year]</text>
<text class="ti" x="623" y="672" textLength="231" lengthAdjust="spacingAndGlyphs">(j) FV15 waviness, [ /year]</text>
<text class="ti" x="1127" y="672" textLength="170" lengthAdjust="spacingAndGlyphs">(k) Width, [<tspan class="se">m</tspan>/year]</text>
<text class="ti" x="1532" y="653" textLength="311" lengthAdjust="spacingAndGlyphs">(l) Integrated speed, [<tspan class="se">m² · s⁻¹</tspan>/year]</text>
<text class="ti" x="1515" y="673"><tspan class="se">×10</tspan><tspan class="se" dy="-8" style="font-size:14px">7</tspan></text>
<text class="ti" x="80" y="972" textLength="364" lengthAdjust="spacingAndGlyphs">(m) Intd. speed over Eur., [<tspan class="se">m² · s⁻¹</tspan>/year]</text>
<text class="ti" x="89" y="992"><tspan class="se">×10</tspan><tspan class="se" dy="-8" style="font-size:14px">7</tspan></text>
<text class="ti" x="634" y="991" textLength="205" lengthAdjust="spacingAndGlyphs">(n) Lifetime, [<tspan class="se">day</tspan>/year]</text>
<text class="ti" x="1075" y="991" textLength="270" lengthAdjust="spacingAndGlyphs">( o) COM speed, [<tspan class="se">m · s⁻¹</tspan>/year]</text>
<text class="ti" x="1561" y="991" textLength="251" lengthAdjust="spacingAndGlyphs">( p) Double jet index, [ /year]</text>
</svg>
</body></html>
